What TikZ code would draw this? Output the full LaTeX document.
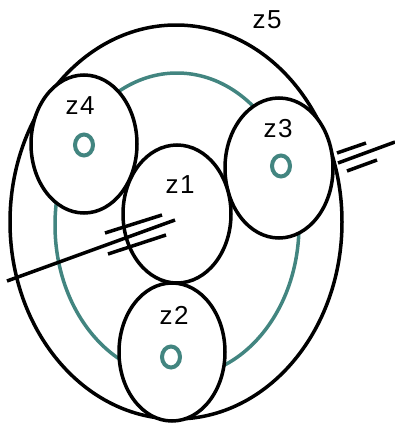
\documentclass[tikz,border=0pt]{standalone}
\usepackage{fontspec}
\setmainfont{Liberation Sans}
\usetikzlibrary{calc}

\begin{document}
\begin{tikzpicture}[x=1pt,y=-1pt,
    zone/.style={black, line width=3.5pt},
    ring/.style={draw=ringteal, line width=3.5pt},
    hole/.style={ringteal, line width=4pt},
    tag/.style={font=\fontsize{26}{26}\selectfont},
    wire/.style={black, line width=3.5pt}]

        % Define colors
        \definecolor{ringteal}{rgb}{0.26, 0.52, 0.50} % Teal ring

        \useasboundingbox (0,0) rectangle (395,423);

        % Draw teal ring
        \draw[ring] (177,225) ellipse (122 and 152);

        % Draw outer zone
        \draw[zone] (176,222) ellipse (166 and 197);

        % Draw inner zones
        \fill[white] (84,144) ellipse (53 and 69);
        \draw[zone] (84,144) ellipse (53 and 69);   % z4
        \fill[white] (279,168) ellipse (54 and 70);
        \draw[zone] (279,168) ellipse (54 and 70);  % z3
        \fill[white] (172,352) ellipse (53 and 69);
        \draw[zone] (172,352) ellipse (53 and 69);  % z2
        \fill[white] (177,214) ellipse (54 and 69);
        \draw[zone] (177,214) ellipse (54 and 69);  % z1

        % Draw small rings
        \draw[hole] (84,145) ellipse (9 and 10.5);
        \draw[hole] (281,166) ellipse (9 and 10.5);
        \draw[hole] (171,357) ellipse (9 and 10.5);

        % Labels
        \node[tag] (z5) at (267,20) {z\kern1.5pt 5};
        \node[tag] (z4) at (80,106) {z\kern1.5pt 4};
        \node[tag] (z3) at (278,129) {z\kern1.5pt 3};
        \node[tag] (z1) at (180,185) {z\kern1.5pt 1};
        \node[tag] (z2) at (174,315) {z\kern1.5pt 2};

        % Left wire bundle
        \coordinate (lin) at (7,281);
        \coordinate (lout) at (175,220);
        \draw[wire] (lin) -- (lout);
        \draw[wire] (105,233) -- (162,215);
        \draw[wire] (108,254) -- (166,235);

        % Right wire bundle
        \coordinate (rin) at (338,163);
        \coordinate (rout) at (395,142);
        \draw[wire] (rin) -- (rout);
        \draw[wire] (337,153) -- (366,143);
        \draw[wire] (347,171) -- (377,160);
\end{tikzpicture}
\end{document}
